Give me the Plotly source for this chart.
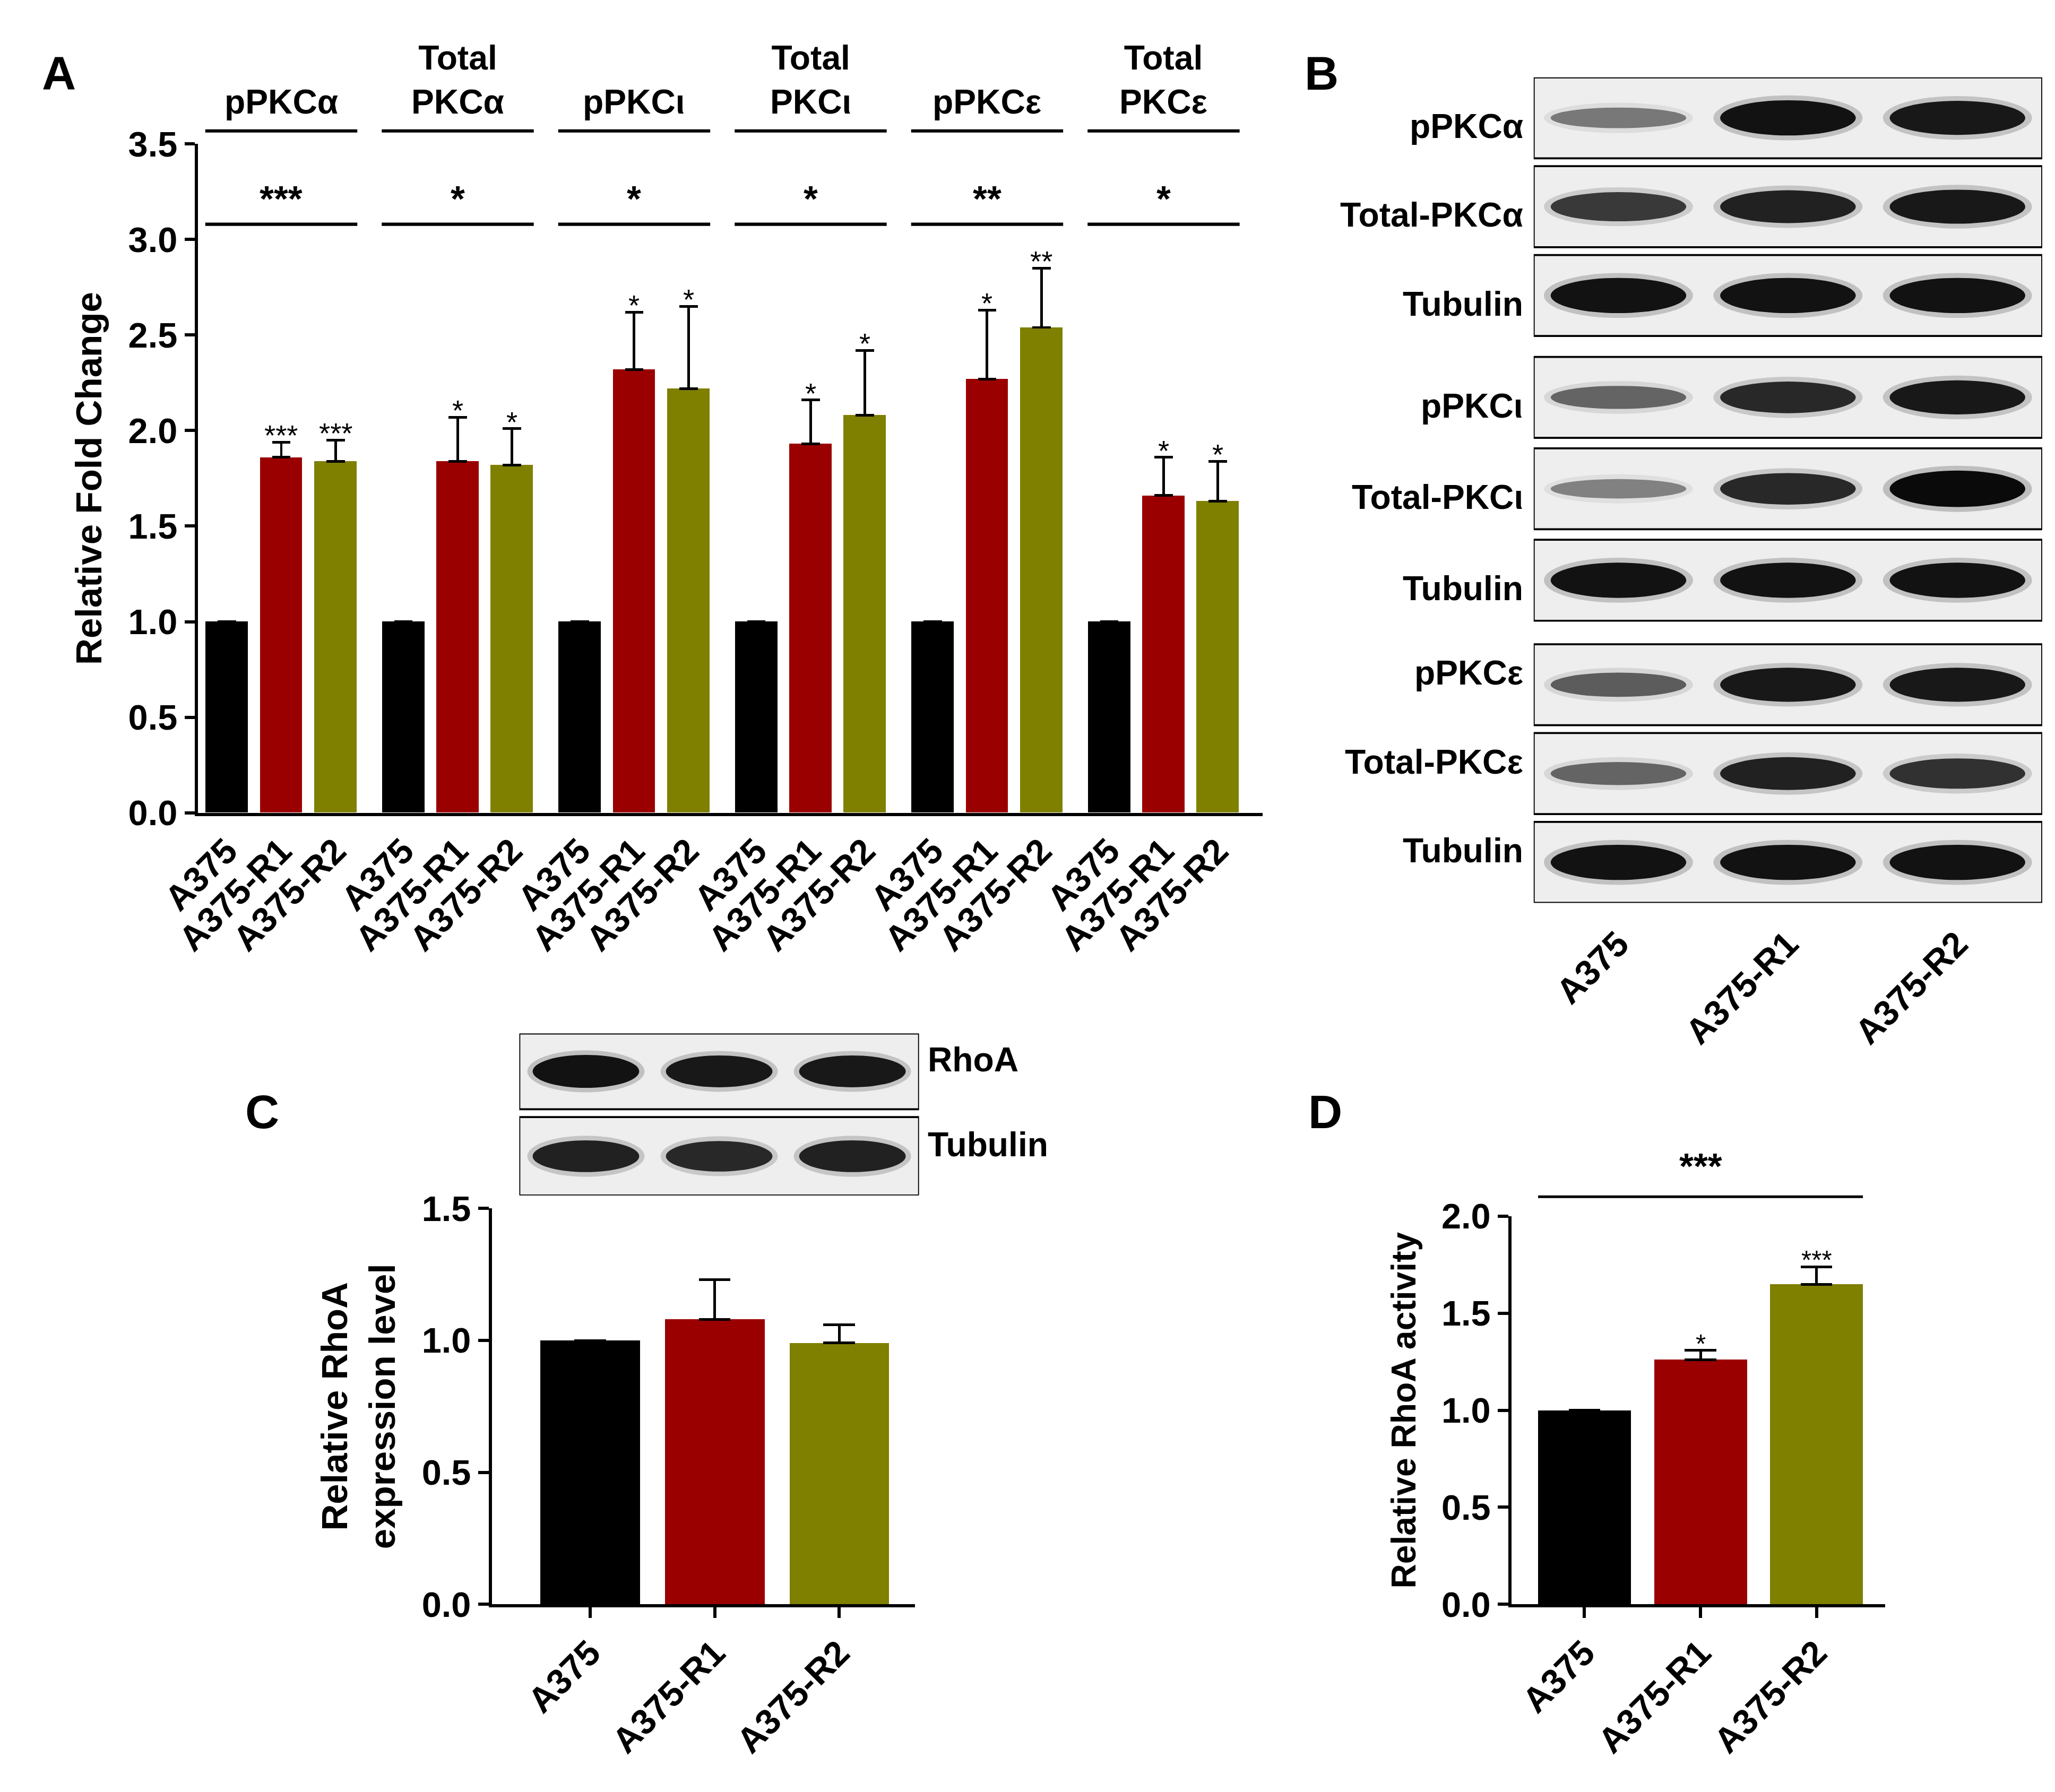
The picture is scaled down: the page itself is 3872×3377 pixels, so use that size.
import plotly.graph_objects as go

W, H = 3872, 3377
S = W / 1568.0
def px(d): return d * S
def fy(y): return 1 - y / 1372.0
def fx(x): return x / 1568.0

FONT = "Liberation Sans"
COL = ["#000000", "#9b0000", "#7f7f00"]
lines3 = ["A375", "A375-R1", "A375-R2"]
NA = float("nan")

# Panel A data
groupsA = ["pPKCα", "Total<br>PKCα", "pPKCι", "Total<br>PKCι", "pPKCε", "Total<br>PKCε"]
meanA = [[1, 1.86, 1.84], [1, 1.84, 1.82], [1, 2.32, 2.22], [1, 1.93, 2.08], [1, 2.27, 2.54], [1, 1.66, 1.63]]
errA = [[NA, 0.08, 0.11], [NA, 0.23, 0.19], [NA, 0.30, 0.43], [NA, 0.23, 0.34], [NA, 0.36, 0.31], [NA, 0.20, 0.21]]
starA = [["", "***", "***"], ["", "*", "*"], ["", "*", "*"], ["", "*", "*"], ["", "*", "**"], ["", "*", "*"]]
groupStarA = ["***", "*", "*", "*", "**", "*"]

# Panel C data
meanC = [1, 1.08, 0.99]
errC = [NA, 0.15, 0.07]
# Panel D data
meanD = [1, 1.26, 1.65]
errD = [NA, 0.05, 0.09]
starD = ["", "*", "***"]

# Blot data (band intensities)
blotB_labels = ["pPKCα", "Total-PKCα", "Tubulin", "pPKCι", "Total-PKCι", "Tubulin", "pPKCε", "Total-PKCε", "Tubulin"]
blotB_int = [[0.35, 0.95, 0.9], [0.7, 0.85, 0.9], [0.95, 0.95, 0.95], [0.45, 0.8, 0.9], [0.3, 0.8, 1.0],
             [0.95, 0.95, 0.95], [0.5, 0.9, 0.9], [0.45, 0.85, 0.75], [0.95, 0.95, 0.95]]
blotC_labels = ["RhoA", "Tubulin"]
blotC_int = [[0.95, 0.9, 0.9], [0.85, 0.8, 0.85]]

fig = go.Figure()
shapes, ann = [], []
TF = dict(family=FONT, size=px(27), color="black", weight=700)
axl = dict(showline=True, linecolor="black", linewidth=px(2.5), ticks="outside", ticklen=px(8),
           tickwidth=px(2.5), tickcolor="black", showgrid=False, zeroline=False, automargin=False,
           tickfont=TF)

def err(a):
    return dict(type="data", symmetric=False, array=a, arrayminus=[0, 0, 0],
                color="black", thickness=px(2), width=px(7))

# ---- Panel A
GAP = 3.25
tickx, tickt = [], []
for g in range(6):
    xs = [g * GAP + k for k in range(3)]
    fig.add_trace(go.Bar(x=xs, y=meanA[g], marker_color=COL, width=0.78, marker_line_width=0,
                         error_y=err(errA[g]), showlegend=False, xaxis="x", yaxis="y"))
    for k in range(3):
        tickx.append(xs[k]); tickt.append(lines3[k])
        if starA[g][k]:
            ann.append(dict(x=xs[k], y=meanA[g][k] + errA[g][k], xref="x", yref="y", text=starA[g][k],
                            showarrow=False, yanchor="bottom", yshift=-px(8),
                            font=dict(family=FONT, size=px(22), color="black")))
    shapes.append(dict(type="line", xref="x", yref="y", x0=xs[0] - 0.4, x1=xs[2] + 0.4, y0=3.08, y1=3.08,
                       line=dict(color="black", width=px(2.5))))
    ann.append(dict(x=xs[1], y=3.1, xref="x", yref="y", text="<b>%s</b>" % groupStarA[g],
                    showarrow=False, yanchor="bottom", font=dict(family=FONT, size=px(28), color="black")))
    shapes.append(dict(type="line", xref="x", yref="paper", x0=xs[0] - 0.4, x1=xs[2] + 0.4,
                       y0=fy(97), y1=fy(97), line=dict(color="black", width=px(2.5))))
    ann.append(dict(x=xs[1], y=fy(90), xref="x", yref="paper", text="<b>%s</b>" % groupsA[g],
                    showarrow=False, yanchor="bottom", font=dict(family=FONT, size=px(26), color="black")))

fig.update_layout(
    xaxis=dict(domain=[fx(148), fx(960)], range=[-0.53, 19.07], tickvals=tickx, ticktext=tickt,
               tickangle=-45, anchor="y", **{**axl, "ticks": ""}),
    yaxis=dict(domain=[fy(619), fy(107)], range=[0, 3.5], dtick=0.5, tickformat=".1f", anchor="x",
               title=dict(text="<b>Relative Fold Change</b>", font=dict(family=FONT, size=px(28), color="black"),
                          standoff=px(12)), **axl))

# ---- Panel C
fig.add_trace(go.Bar(x=[0, 1, 2], y=meanC, marker_color=COL, width=0.8, marker_line_width=0,
                     error_y={**err(errC), "width": px(12)}, showlegend=False, xaxis="x2", yaxis="y2"))
fig.update_layout(
    xaxis2=dict(domain=[fx(372), fx(695)], range=[-0.79, 2.61], tickvals=[0, 1, 2], ticktext=lines3,
                tickangle=-45, anchor="y2", **axl),
    yaxis2=dict(domain=[fy(1225), fy(922)], range=[0, 1.5], dtick=0.5, tickformat=".1f", anchor="x2",
                title=dict(text="<b>Relative RhoA<br>expression level</b>",
                           font=dict(family=FONT, size=px(28), color="black"), standoff=px(12)), **axl))

# ---- Panel D
fig.add_trace(go.Bar(x=[0, 1, 2], y=meanD, marker_color=COL, width=0.8, marker_line_width=0,
                     error_y={**err(errD), "width": px(12)}, showlegend=False, xaxis="x3", yaxis="y3"))
for k in range(3):
    if starD[k]:
        ann.append(dict(x=k, y=meanD[k] + errD[k], xref="x3", yref="y3", text=starD[k], showarrow=False,
                        yanchor="bottom", yshift=-px(7), font=dict(family=FONT, size=px(20), color="black")))
shapes.append(dict(type="line", xref="x3", yref="paper", x0=-0.4, x1=2.4, y0=fy(913), y1=fy(913),
                   line=dict(color="black", width=px(2))))
ann.append(dict(x=1, y=fy(906), xref="x3", yref="paper", text="<b>***</b>", showarrow=False,
                yanchor="bottom", font=dict(family=FONT, size=px(28), color="black")))
fig.update_layout(
    xaxis3=dict(domain=[fx(1150), fx(1435)], range=[-0.63, 2.59], tickvals=[0, 1, 2], ticktext=lines3,
                tickangle=-45, anchor="y3", **axl),
    yaxis3=dict(domain=[fy(1225), fy(928)], range=[0, 2.0], dtick=0.5, tickformat=".1f", anchor="x3",
                title=dict(text="<b>Relative RhoA activity</b>",
                           font=dict(family=FONT, size=px(26), color="black"), standoff=px(12)), **axl))

# ---- Blots
def blot(xa, ya, labels, ints, rows, label_x, side):
    for r, (top, bot) in enumerate(rows):
        shapes.append(dict(type="rect", xref=xa, yref=ya, x0=-0.5, x1=2.5, y0=top, y1=bot,
                           fillcolor="#eeeeee", line=dict(color="black", width=px(1.5)), layer="below"))
        mid = (top + bot) / 2.0
        hgt = bot - top
        for k in range(3):
            v = ints[r][k]
            h = hgt * (0.15 + 0.3 * v)
            shapes.append(dict(type="circle", xref=xa, yref=ya, x0=k - 0.44, x1=k + 0.44,
                               y0=mid - h / 2 - hgt * 0.06, y1=mid + h / 2 + hgt * 0.06,
                               fillcolor="rgba(80,80,80,%.2f)" % (0.3 * v), line=dict(width=0)))
            shapes.append(dict(type="circle", xref=xa, yref=ya, x0=k - 0.4, x1=k + 0.4,
                               y0=mid - h / 2, y1=mid + h / 2,
                               fillcolor="rgba(10,10,10,%.2f)" % (0.2 + 0.8 * v), line=dict(width=0)))
        ann.append(dict(x=fx(label_x), y=fy(mid - 9), xref="paper", yref="paper", text="<b>%s</b>" % labels[r],
                        showarrow=False, xanchor=side, font=dict(family=FONT, size=px(26), color="black")))

rowsB = [(56, 118), (124, 186), (192, 254), (270, 332), (340, 402), (410, 472), (490, 552), (558, 620), (626, 688)]
rowsC = [(788, 846), (852, 912)]
blot("x4", "y4", blotB_labels, blotB_int, rowsB, 1160, "right")
blot("x5", "y5", blotC_labels, blotC_int, rowsC, 704, "left")
hid = dict(showline=False, showgrid=False, zeroline=False, automargin=False)
fig.update_layout(
    xaxis4=dict(domain=[fx(1167), fx(1555)], range=[-0.5, 2.5], tickvals=[0, 1, 2], ticktext=lines3,
                tickangle=-45, ticks="", anchor="y4", ticklabelstandoff=int(px(10)), tickfont=TF, **hid),
    yaxis4=dict(domain=[fy(688), fy(56)], range=[688, 56], showticklabels=False, anchor="x4", **hid),
    xaxis5=dict(domain=[fx(393), fx(698)], range=[-0.5, 2.5], showticklabels=False, anchor="y5", **hid),
    yaxis5=dict(domain=[fy(912), fy(788)], range=[912, 788], showticklabels=False, anchor="x5", **hid),
)

for t, x, y in [("A", 28, 32), ("B", 1005, 32), ("C", 183, 848), ("D", 1008, 848)]:
    ann.append(dict(x=fx(x), y=fy(y), xref="paper", yref="paper", text="<b>%s</b>" % t, showarrow=False,
                    font=dict(family=FONT, size=px(36), color="black")))

fig.update_layout(width=W, height=H, margin=dict(l=0, r=0, t=0, b=0), paper_bgcolor="white",
                  plot_bgcolor="white", shapes=shapes, annotations=ann, bargap=0)
fig.write_html("out.html")
